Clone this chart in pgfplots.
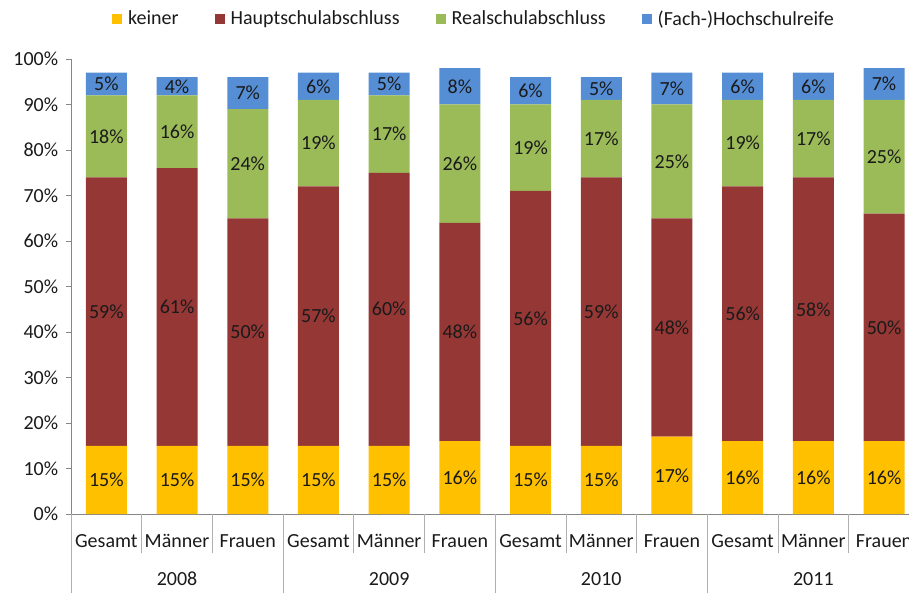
\documentclass[border=0pt]{standalone}
\usepackage{pgfplots}
\pgfplotsset{compat=1.18}
\usepackage{pgfplotstable}
\usepackage{fontspec}
\setmainfont{Carlito}
\definecolor{cK}{HTML}{FFC000}
\definecolor{cH}{HTML}{953735}
\definecolor{cR}{HTML}{9BBB59}
\definecolor{cF}{HTML}{558ED5}
\definecolor{axgray}{HTML}{868686}
\definecolor{sepgray}{HTML}{B0B0B0}
\definecolor{txt}{HTML}{1A1A1A}
\pgfplotstableread{
x k h r f
0 15 59 18 5
1 15 61 16 4
2 15 50 24 7
3 15 57 19 6
4 15 60 17 5
5 16 48 26 8
6 15 56 19 6
7 15 59 17 5
8 17 48 25 7
9 16 56 19 6
10 16 58 17 6
11 16 50 25 7
}\data
\begin{document}
\fontsize{20}{24}\selectfont
\begin{tikzpicture}
\begin{axis}[
  scale only axis,
  width=848.4pt, height=455pt,
  xmin=-0.5, xmax=11.5,
  ymin=0, ymax=100,
  ybar stacked, bar width=41pt,
  axis lines*=left,
  axis line style={axgray, line width=0.8pt},
  /pgf/number format/assume math mode=true,
  font=\fontsize{20}{24}\selectfont,
  ytick={0,10,...,100},
  yticklabel={\pgfmathprintnumber{\tick}\%},
  yticklabel style={text=txt, xshift=-1pt},
  tick align=outside,
  major tick length=5pt,
  ytick style={axgray, line width=0.8pt},
  xtick={0,...,11},
  xticklabels={Gesamt,Männer,Frauen,Gesamt,Männer,Frauen,Gesamt,Männer,Frauen,Gesamt,Männer,Frauen},
  xtick style={draw=none},
  xticklabel style={text=txt, anchor=center, yshift=-22pt},
  point meta=explicit,
  nodes near coords={\pgfmathprintnumber{\pgfplotspointmeta}\%},
  every node near coord/.append style={anchor=center, text=txt, font=\fontsize{20}{24}\selectfont},
  legend columns=4,
  legend style={draw=none, fill=none, at={(0.475,1.087)}, anchor=center,
    font=\fontsize{20}{24}\selectfont, text=txt,
    /tikz/every even column/.append style={column sep=34pt}},
  legend image code/.code={\fill[#1] (0pt,-5pt) rectangle (10pt,5pt); \path (14pt,0pt);},
  clip=false,
]
\addplot[fill=cK, draw=none] table[x=x,y=k,meta=k]{\data};
\addplot[fill=cH, draw=none] table[x=x,y=h,meta=h]{\data};
\addplot[fill=cR, draw=none] table[x=x,y=r,meta=r]{\data};
\addplot[fill=cF, draw=none] table[x=x,y=f,meta=f]{\data};
\legend{keiner,Hauptschulabschluss,Realschulabschluss,(Fach-)Hochschulreife}
\coordinate (O) at (rel axis cs:0,0);
\pgfplotsinvokeforeach{0.5,1.5,3.5,4.5,6.5,7.5,9.5,10.5}{
  \draw[sepgray, line width=0.8pt] (axis cs:#1,0) -- ([yshift=-39pt]axis cs:#1,0);
}
\pgfplotsinvokeforeach{-0.5,2.5,5.5,8.5}{
  \draw[sepgray, line width=0.8pt] (axis cs:#1,0) -- ([yshift=-80pt]axis cs:#1,0);
}
\node[text=txt] at ([yshift=-65pt]axis cs:1,0) {2008};
\node[text=txt] at ([yshift=-65pt]axis cs:4,0) {2009};
\node[text=txt] at ([yshift=-65pt]axis cs:7,0) {2010};
\node[text=txt] at ([yshift=-65pt]axis cs:10,0) {2011};
\end{axis}
\pgfresetboundingbox
\path[use as bounding box] ([shift={(-71pt,-78pt)}]O) rectangle ([shift={(838pt,514pt)}]O);
\end{tikzpicture}
\end{document}
